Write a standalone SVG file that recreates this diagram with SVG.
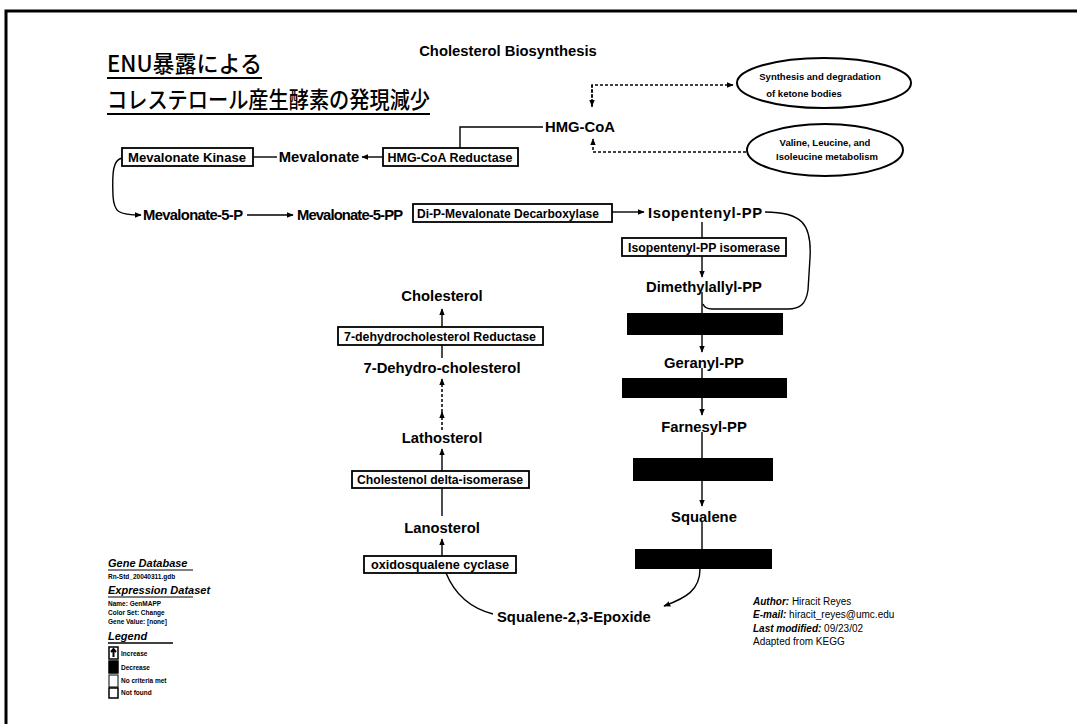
<svg xmlns="http://www.w3.org/2000/svg" width="1077" height="724" viewBox="0 0 1077 724">
  <defs>
    <marker id="ah" viewBox="0 0 10 10" refX="9" refY="5" markerWidth="7" markerHeight="7" orient="auto" markerUnits="userSpaceOnUse">
      <path d="M0,1 L10,5 L0,9 Z" fill="#000"/>
    </marker>
    <style>
      .met { font-family: "Liberation Sans", Arial, sans-serif; font-weight: bold; font-size: 14.8px; fill: #000; }
      .enz { font-family: "Liberation Sans", Arial, sans-serif; font-weight: bold; font-size: 12px; fill: #000; text-anchor: middle; }
      .box { fill: #fff; stroke: #000; stroke-width: 1.8; }
      .blk { fill: #000; }
      .ln { fill: none; stroke: #000; stroke-width: 1.4; }
      .dot { fill: none; stroke: #000; stroke-width: 1.5; stroke-dasharray: 3 2; }
      .ell { fill: #fff; stroke: #000; stroke-width: 2; }
      .etx { font-family: "Liberation Sans", Arial, sans-serif; font-weight: bold; font-size: 9.5px; text-anchor: middle; }
      .ttl { font-family: "Noto Sans CJK JP", "Liberation Sans", sans-serif; font-size: 23px; font-weight: 500; }
      .lg { font-family: "Liberation Sans", Arial, sans-serif; font-size: 6.5px; font-weight: bold; }
      .lgh { font-family: "Liberation Sans", Arial, sans-serif; font-size: 11px; font-weight: bold; font-style: italic; }
      .au { font-family: "Liberation Sans", Arial, sans-serif; font-size: 10px; }
      .au tspan.k { font-weight: bold; font-style: italic; }
    </style>
  </defs>

  <rect width="1077" height="724" fill="#fff"/>
  <!-- page frame -->
  <path d="M6 724 V11 H1077" fill="none" stroke="#000" stroke-width="3"/>

  <!-- title -->
  <g id="title">
    <text class="ttl" x="107" y="72" textLength="155" lengthAdjust="spacingAndGlyphs">ENU暴露による</text>
    <line x1="107" y1="78" x2="262" y2="78" stroke="#000" stroke-width="2"/>
    <text class="ttl" x="107" y="108" textLength="323" lengthAdjust="spacingAndGlyphs">コレステロール産生酵素の発現減少</text>
    <line x1="107" y1="114" x2="430" y2="114" stroke="#000" stroke-width="2"/>
  </g>
  <text id="heading" class="met" x="508" y="56" text-anchor="middle" font-size="14.5">Cholesterol Biosynthesis</text>

  <!-- connectors -->
  <g id="connectors">
    <path class="dot" d="M592 107 V85 H733" marker-end="url(#ah)"/>
    <path class="dot" d="M592 85 V106" marker-end="url(#ah)"/>
    <path class="dot" d="M746 152 H593 V139" stroke-width="1.2" stroke-dasharray="3 1.5" marker-end="url(#ah)"/>
    <path class="ln" d="M543 127 H460 V148"/>
    <path class="ln" d="M383 157 H362" marker-end="url(#ah)"/>
    <path class="ln" d="M277 157 H253"/>
    <path class="ln" d="M122 158 C113 160 112 172 113 196 C114 212 118 215 141 215" marker-end="url(#ah)"/>
    <path class="ln" d="M247 215 H293" marker-end="url(#ah)"/>
    <path class="ln" d="M612 212 H644" marker-end="url(#ah)"/>
    <!-- right column -->
    <path class="ln" d="M702 222 V238"/>
    <path class="ln" d="M702 256 V277" marker-end="url(#ah)"/>
    <path class="ln" d="M702 292 V313"/>
    <path class="ln" d="M765 212 C802 212 812 224 810 258 L808 290 C806 304 800 309 788 309 L712 309 Q705 309 703 304"/>
    <path class="ln" d="M702 335 V352" marker-end="url(#ah)"/>
    <path class="ln" d="M702 368 V378"/>
    <path class="ln" d="M702 398 V415" marker-end="url(#ah)"/>
    <path class="ln" d="M702 432 V458"/>
    <path class="ln" d="M702 481 V506" marker-end="url(#ah)"/>
    <path class="ln" d="M702 522 V549"/>
    <path class="ln" d="M700 569 C700 590 686 598 664 606" marker-end="url(#ah)"/>
    <!-- left column -->
    <path class="ln" d="M442 327 V309" marker-end="url(#ah)"/>
    <path class="ln" d="M442 345 V358"/>
    <path class="dot" d="M442 430 V412" stroke-dasharray="2 2" marker-end="url(#ah)"/>
    <path class="dot" d="M442 412 V379" stroke-dasharray="2 2" marker-end="url(#ah)"/>
    <path class="ln" d="M442 471 V449" marker-end="url(#ah)"/>
    <path class="ln" d="M442 488 V516"/>
    <path class="ln" d="M442 556 V539" marker-end="url(#ah)"/>
    <path class="ln" d="M446 573 C455 595 470 608 493 614"/>
  </g>

  <!-- side pathways -->
  <g id="ketone">
    <ellipse class="ell" cx="824" cy="83" rx="87" ry="25"/>
    <text class="etx" x="820" y="80">Synthesis and degradation</text>
    <text class="etx" x="804" y="97">of ketone bodies</text>
  </g>
  <g id="bcaa">
    <ellipse class="ell" cx="825" cy="150" rx="78" ry="26"/>
    <text class="etx" x="825" y="146">Valine, Leucine, and</text>
    <text class="etx" x="827" y="160">Isoleucine metabolism</text>
  </g>

  <!-- metabolites -->
  <text id="hmgcoa" class="met" x="545" y="132">HMG-CoA</text>
  <text id="mevalonate" class="met" x="319" y="162" text-anchor="middle">Mevalonate</text>
  <text id="mev5p" class="met" x="143" y="220" textLength="100">Mevalonate-5-P</text>
  <text id="mev5pp" class="met" x="297" y="220" textLength="106">Mevalonate-5-PP</text>
  <text id="ipp" class="met" x="648" y="218" textLength="114">Isopentenyl-PP</text>
  <text id="dmapp" class="met" x="704" y="292" text-anchor="middle">Dimethylallyl-PP</text>
  <text id="gpp" class="met" x="704" y="368" text-anchor="middle">Geranyl-PP</text>
  <text id="fpp" class="met" x="704" y="432" text-anchor="middle">Farnesyl-PP</text>
  <text id="squalene" class="met" x="704" y="522" text-anchor="middle">Squalene</text>
  <text id="epoxide" class="met" x="497" y="622">Squalene-2,3-Epoxide</text>
  <text id="cholesterol" class="met" x="442" y="301" text-anchor="middle">Cholesterol</text>
  <text id="dhc" class="met" x="442" y="373" text-anchor="middle">7-Dehydro-cholesterol</text>
  <text id="lathosterol" class="met" x="442" y="443" text-anchor="middle">Lathosterol</text>
  <text id="lanosterol" class="met" x="442" y="533" text-anchor="middle">Lanosterol</text>

  <!-- enzymes -->
  <g id="hmgcr"><rect class="box" x="383" y="148" width="135" height="18"/><text class="enz" x="450" y="161.5" textLength="125" lengthAdjust="spacingAndGlyphs">HMG-CoA Reductase</text></g>
  <g id="mvk"><rect class="box" x="122" y="148" width="131" height="18"/><text class="enz" x="187" y="161.5" textLength="118" lengthAdjust="spacingAndGlyphs">Mevalonate Kinase</text></g>
  <g id="mvd"><rect class="box" x="413" y="204" width="199" height="18"/><text class="enz" x="508" y="217.5" textLength="182" lengthAdjust="spacingAndGlyphs">Di-P-Mevalonate Decarboxylase</text></g>
  <g id="idi"><rect class="box" x="622" y="238" width="164" height="18"/><text class="enz" x="704" y="251.5" textLength="152" lengthAdjust="spacingAndGlyphs">Isopentenyl-PP isomerase</text></g>
  <g id="gps"><rect class="blk" x="627" y="313" width="156" height="22"/></g>
  <g id="fps"><rect class="blk" x="622" y="378" width="165" height="20"/></g>
  <g id="sqs"><rect class="blk" x="633" y="458" width="140" height="23"/></g>
  <g id="sqle"><rect class="blk" x="635" y="549" width="137" height="20"/></g>
  <g id="dhcr7"><rect class="box" x="338" y="327" width="205" height="18"/><text class="enz" x="440" y="340.5" textLength="192" lengthAdjust="spacingAndGlyphs">7-dehydrocholesterol Reductase</text></g>
  <g id="ebp"><rect class="box" x="352" y="471" width="177" height="17"/><text class="enz" x="440" y="484" textLength="166" lengthAdjust="spacingAndGlyphs">Cholestenol delta-isomerase</text></g>
  <g id="lss"><rect class="box" x="364" y="556" width="152" height="17"/><text class="enz" x="440" y="569" textLength="138" lengthAdjust="spacingAndGlyphs">oxidosqualene cyclase</text></g>

  <!-- legend -->
  <g id="legend">
    <text class="lgh" x="108" y="567">Gene Database</text>
    <line x1="108" y1="570" x2="193" y2="570" stroke="#000" stroke-width="1"/>
    <text class="lg" x="108" y="579">Rn-Std_20040311.gdb</text>
    <text class="lgh" x="108" y="594">Expression Dataset</text>
    <line x1="108" y1="597" x2="193" y2="597" stroke="#000" stroke-width="1"/>
    <text class="lg" x="108" y="606">Name: GenMAPP</text>
    <text class="lg" x="108" y="615">Color Set: Change</text>
    <text class="lg" x="108" y="624">Gene Value: [none]</text>
    <text class="lgh" x="108" y="640" font-weight="normal">Legend</text>
    <line x1="108" y1="643" x2="173" y2="643" stroke="#000" stroke-width="1.5"/>
    <rect x="109" y="647" width="9" height="12" fill="#fff" stroke="#000" stroke-width="1.5"/>
    <path d="M113.5 657 V650 M111 652 L113.5 649 L116 652" stroke="#000" stroke-width="2" fill="none"/>
    <text class="lg" x="121" y="656">Increase</text>
    <rect x="109" y="661" width="9" height="12" fill="#000" stroke="#000" stroke-width="1.5"/>
    <text class="lg" x="121" y="670">Decrease</text>
    <rect x="109" y="675" width="9" height="12" fill="#fff" stroke="#000" stroke-width="1"/>
    <text class="lg" x="121" y="683">No criteria met</text>
    <rect x="109" y="688" width="9" height="10" fill="#fff" stroke="#000" stroke-width="1.5"/>
    <text class="lg" x="121" y="695">Not found</text>
  </g>

  <!-- credits -->
  <g id="credits">
    <text class="au" x="753" y="605"><tspan class="k">Author:</tspan> Hiracit Reyes</text>
    <text class="au" x="753" y="618"><tspan class="k">E-mail:</tspan> hiracit_reyes@umc.edu</text>
    <text class="au" x="753" y="632"><tspan class="k">Last modified:</tspan> 09/23/02</text>
    <text class="au" x="753" y="645">Adapted from KEGG</text>
  </g>
</svg>
